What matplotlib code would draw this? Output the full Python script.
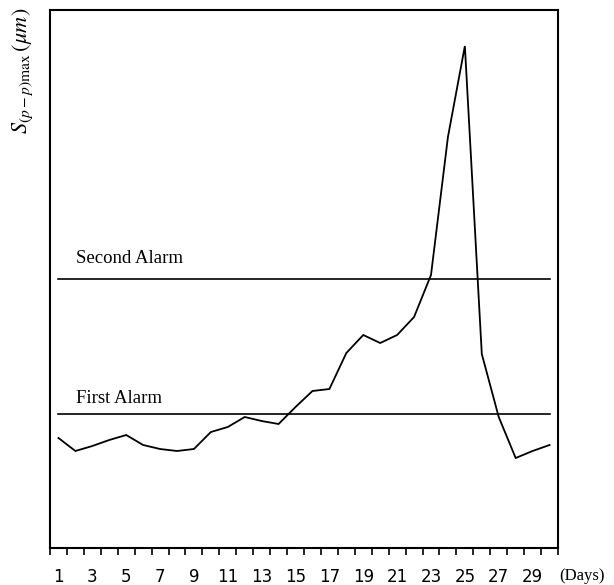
import matplotlib
matplotlib.use("Agg")
import matplotlib.pyplot as plt
import numpy as np

days = np.arange(1, 31)
s_pp_max = [110, 97, 102, 108, 113, 103, 99, 97, 99, 116,
            121, 131, 127, 124, 141, 157, 159, 195, 213, 205,
            213, 231, 273, 411, 502, 194, 131, 90, 97, 103]
first_alarm = 134
second_alarm = 269
alarm_labels = ["First Alarm", "Second Alarm"]
tick_labels = [str(d) for d in range(1, 30, 2)]

plt.rcParams['mathtext.fontset'] = 'stix'

fig = plt.figure(figsize=(6.14, 5.85), dpi=100)
ax = fig.add_axes([50/614, 1-548/585, (558-50)/614, (548-10)/585])

ax.plot(days, s_pp_max, color='black', lw=1.3, solid_joinstyle='miter')
ax.plot([days[0], days[-1]], [first_alarm, first_alarm], color='black', lw=1.2)
ax.plot([days[0], days[-1]], [second_alarm, second_alarm], color='black', lw=1.2)

ax.text(2.05, first_alarm + 11, alarm_labels[0], family='Liberation Serif', fontsize=13.5,
        ha='left', va='baseline')
ax.text(2.05, second_alarm + 16, alarm_labels[1], family='Liberation Serif', fontsize=13.5,
        ha='left', va='baseline')

ax.set_xlim(0.5, 30.5)
ax.set_ylim(0, 538)

for sp in ax.spines.values():
    sp.set_linewidth(1.5)

ax.set_xticks(np.arange(0.5, 31, 1.0))
ax.set_xticklabels([])
ax.tick_params(axis='x', which='major', direction='out', length=5, width=1.2)
ax.set_xticks(np.arange(1, 30, 2), minor=True)
ax.set_xticklabels(tick_labels, minor=True, fontsize=12, family='DejaVu Sans')
ax.tick_params(axis='x', which='minor', length=0, pad=14.5)
ax.set_yticks([])

fig.text(559/614, 1-576/585, "(Days)", family='Liberation Serif', fontsize=12,
         ha='left', va='center')
fig.text(23/614, 1-8/585, r'$S_{(p-p)\mathrm{max}}\,(\mu m)$', fontsize=16,
         rotation=90, ha='center', va='top')

fig.savefig("out.png", dpi=100)
